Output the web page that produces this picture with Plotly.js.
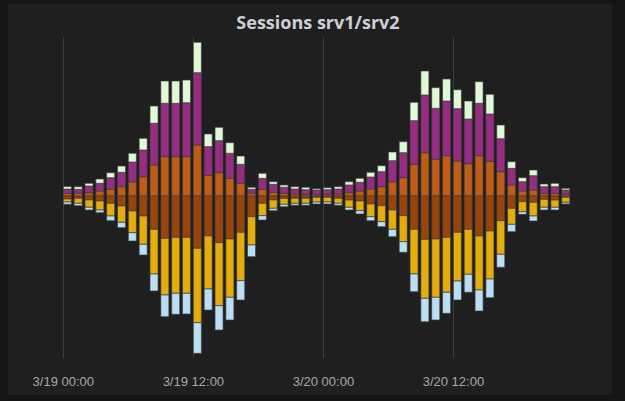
<!DOCTYPE html>
<html>
<head>
<meta charset="utf-8">
<script src="https://cdn.plot.ly/plotly-3.0.1.min.js"></script>
<style>
  html, body { margin: 0; padding: 0; background: #151515; width: 625px; height: 401px; overflow: hidden; }
  #panel { position: absolute; left: 8px; top: 4px; width: 604px; height: 391px; background: #1f1f1f; }
  #chart { width: 604px; height: 391px; }
</style>
</head>
<body>
<div id="panel"><div id="chart"></div></div>
<script>
// Hourly timestamps, 3/19 00:00 .. 3/20 22:00
const startTime = '2017-03-19T00:00:00';
const hours = 47;

// srv1 (drawn above zero)
const srv1Active  = [2.5,2.7,3.3,5,6.7,9.3,14,19.3,31,39.3,39.3,39.3,51,20.7,23.3,17.7,12.7,2.7,6.7,3.7,2.7,2,1.7,1.3,1.7,2,3.3,5,7,9.3,14.3,18.3,31.7,43.3,36.7,40.3,35,32.3,40.3,34.7,24.3,11,5,6,2.7,2.7,1.7];
const srv1Idle    = [4.5,4,6.7,7.7,11.6,14.4,20,26.7,41.7,53.4,53.4,54,72.3,28.6,32,25,19,4,11,8,6,5,4.6,4.7,4.6,5,7.7,8.7,12,15,21,25,43.6,57.7,51,54.7,52.3,44.7,52.4,47.3,33,16.7,9.3,14.3,6.6,6.6,4.3];
const srv1Waiting = [2.5,2.6,2.7,4.3,5,6.3,8.7,11.7,17.3,22.3,22.3,22.7,30.4,12.7,13.4,10.6,8.3,2,5,2.6,2.3,2.3,2.4,1.3,2,2.3,3.3,4,4.7,6,8.7,11,18.4,24,20.6,22,19,18,21.6,19.7,13.7,6.6,4,5.7,2.7,3.4,1.7];

// srv2 (drawn below zero, negative-Y)
const srv2Active  = [3,2.3,4,5,7.3,10,15,20,33.3,42.3,41.3,41.3,52.3,40,46.7,43,36.3,20.7,7.3,4,2.3,2.3,2.3,1.3,1.3,2.3,4,5,8,9.7,14,19.7,33.3,43.3,43,41.3,36.3,33.3,40,35,24.7,12.3,5.7,6.3,3.3,4,1.3];
const srv2Idle    = [3,5,7.3,9,12.7,16.3,21.7,28.3,44.7,56.7,56,56,74.4,53,63,58.3,48.4,28.3,12.4,8.3,6,5,5,4.7,4.7,5,7.3,9.7,12.7,16,19.3,26,44.7,59,58.3,55,48.7,45,54,48,33.6,16,10,13.7,8,7.3,5];
const srv2Waiting = [2.3,2.4,2.7,2.7,4.7,5.4,8.3,10.7,17,21.7,21,20.7,30.6,21,24.3,22.7,19.3,11.7,4.3,2.4,2.4,2,2,2,2,2,2.7,3.3,4,5,7.4,10.6,17.7,23.4,22.7,21,19,18,21,18.7,13,7.4,2.6,5,2.7,2.7,1.7];

const HOUR = 3600000;
const t0 = new Date(startTime + 'Z').getTime();
const times = [];
for (let i = 0; i < hours; i++) {
  const d = new Date(t0 + i * HOUR);
  times.push(d.toISOString().slice(0, 19).replace('T', ' '));
}

const seriesDefs = [
  { name: 'srv1 active',  data: srv1Active,  sign: 1,  color: '#C15C17' },
  { name: 'srv1 idle',    data: srv1Idle,    sign: 1,  color: '#962D82' },
  { name: 'srv1 waiting', data: srv1Waiting, sign: 1,  color: '#E0F9D7' },
  { name: 'srv2 active',  data: srv2Active,  sign: -1, color: '#99440A' },
  { name: 'srv2 idle',    data: srv2Idle,    sign: -1, color: '#E5AC0E' },
  { name: 'srv2 waiting', data: srv2Waiting, sign: -1, color: '#BADFF4' }
];

const traces = seriesDefs.map(s => ({
  type: 'bar',
  name: s.name,
  x: times,
  y: s.data.map(v => s.sign * v),
  offset: 0,
  width: 0.74 * HOUR,
  marker: { color: s.color, line: { color: 'rgba(60,60,60,0.65)', width: 1 } },
  hoverinfo: 'skip'
}));

const layout = {
  width: 604,
  height: 391,
  margin: { l: 12, r: 34, t: 33, b: 37 },
  paper_bgcolor: '#1f1f1f',
  plot_bgcolor: '#1f1f1f',
  barmode: 'relative',
  showlegend: false,
  title: {
    text: '<b>Sessions srv1/srv2</b>',
    font: { family: 'Open Sans, sans-serif', size: 18, color: '#cdd0d8' },
    xref: 'container', x: (318 - 8) / 604, xanchor: 'center',
    yref: 'container', y: 1 - 19 / 391, yanchor: 'middle'
  },
  xaxis: {
    type: 'date',
    range: ['2017-03-18 20:00', '2017-03-20 23:30'],
    tick0: '2017-03-19 00:00',
    dtick: 12 * HOUR,
    tickformat: '%-m/%d %H:%M',
    showgrid: true,
    gridcolor: '#3d3d3d',
    gridwidth: 1,
    zeroline: false,
    showline: false,
    ticks: '',
    ticklabelstandoff: 14,
    tickfont: { family: 'Liberation Sans, Arial, sans-serif', size: 13, color: '#a8a8a8' }
  },
  yaxis: {
    range: [-162, 159],
    showgrid: false,
    zeroline: false,
    showticklabels: false,
    showline: false,
    ticks: ''
  }
};

Plotly.newPlot('chart', traces, layout, { displayModeBar: false, staticPlot: true });
</script>
</body>
</html>
